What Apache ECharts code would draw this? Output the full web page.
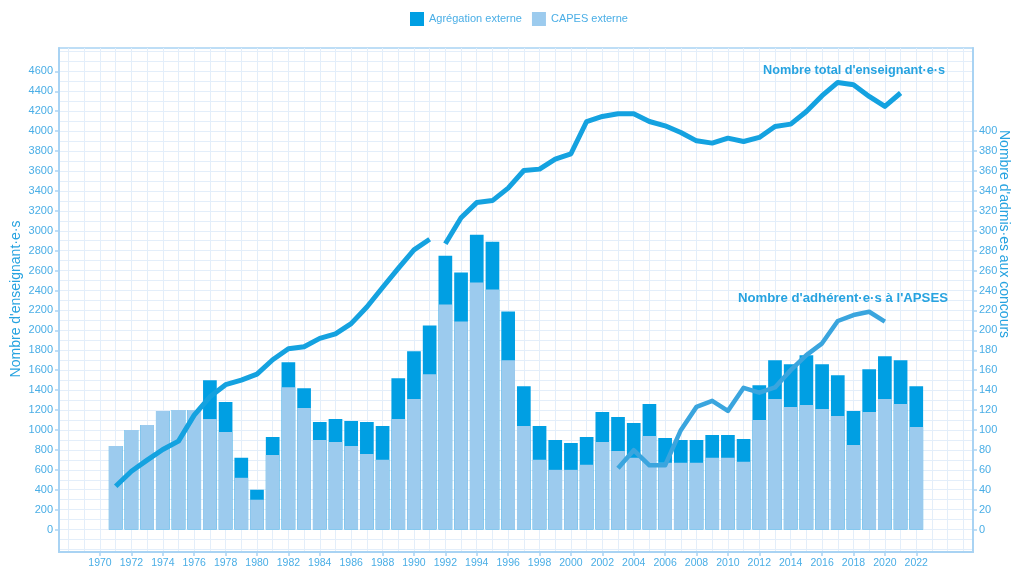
<!DOCTYPE html>
<html><head><meta charset="utf-8">
<script src="https://cdn.jsdelivr.net/npm/echarts@6/dist/echarts.min.js"></script>
<style>html,body{margin:0;padding:0;background:#fff}#c{width:1014px;height:566px}</style>
</head><body><div id="c"></div>
<script>
// ---- data ----
const years = [1971,1972,1973,1974,1975,1976,1977,1978,1979,1980,1981,1982,1983,1984,1985,1986,1987,1988,1989,1990,1991,1992,1993,1994,1995,1996,1997,1998,1999,2000,2001,2002,2003,2004,2005,2006,2007,2008,2009,2010,2011,2012,2013,2014,2015,2016,2017,2018,2019,2020,2021,2022];
const capesExterne = [84,100,105,119,120,120,111,98,52,30,75,143,122,90,88,84,76,70,111,131,156,226,209,248,241,170,104,70,60,60,65,88,79,72,94,67,67,67,72,72,68,110,131,123,125,121,114,85,118,131,126,103];
const agregExterne = [0,0,0,0,0,0,39,30,20,10,18,25,20,18,23,25,32,34,41,48,49,49,49,48,48,49,40,34,30,27,28,30,34,35,32,25,23,23,23,23,23,35,39,43,50,45,41,34,43,43,44,41];

const teacherYears = [1971,1972,1973,1974,1975,1976,1977,1978,1979,1980,1981,1982,1983,1984,1985,1986,1987,1988,1989,1990,1991,1992,1993,1994,1995,1996,1997,1998,1999,2000,2001,2002,2003,2004,2005,2006,2007,2008,2009,2010,2011,2012,2013,2014,2015,2016,2017,2018,2019,2020,2021];
const teachersTotal = [435,586,697,804,888,1149,1333,1455,1500,1560,1705,1815,1836,1920,1965,2068,2235,2430,2623,2808,2915,2870,3130,3283,3303,3428,3605,3619,3719,3773,4097,4148,4175,4175,4097,4054,3987,3903,3880,3930,3896,3937,4047,4071,4198,4356,4489,4466,4349,4248,4383];
const teachersBreakAfter = 1991; // the curve is interrupted between 1991 and 1992

const apsesYears = [2003,2004,2005,2006,2007,2008,2009,2010,2011,2012,2013,2014,2015,2016,2017,2018,2019,2020];
const apsesMembers = [615,797,645,645,998,1232,1293,1192,1423,1375,1427,1601,1752,1870,2094,2154,2187,2087];

const xTickYears = [1970,1972,1974,1976,1978,1980,1982,1984,1986,1988,1990,1992,1994,1996,1998,2000,2002,2004,2006,2008,2010,2012,2014,2016,2018,2020,2022];
const xGridYears = [1968,1969,1970,1971,1972,1973,1974,1975,1976,1977,1978,1979,1980,1981,1982,1983,1984,1985,1986,1987,1988,1989,1990,1991,1992,1993,1994,1995,1996,1997,1998,1999,2000,2001,2002,2003,2004,2005,2006,2007,2008,2009,2010,2011,2012,2013,2014,2015,2016,2017,2018,2019,2020,2021,2022,2023,2024,2025];
const leftTicks = [0,200,400,600,800,1000,1200,1400,1600,1800,2000,2200,2400,2600,2800,3000,3200,3400,3600,3800,4000,4200,4400,4600];
const rightTicks = [0,20,40,60,80,100,120,140,160,180,200,220,240,260,280,300,320,340,360,380,400];
const gridLinesY = [-200,-100,0,100,200,300,400,500,600,700,800,900,1000,1100,1200,1300,1400,1500,1600,1700,1800,1900,2000,2100,2200,2300,2400,2500,2600,2700,2800,2900,3000,3100,3200,3300,3400,3500,3600,3700,3800,3900,4000,4100,4200,4300,4400,4500,4600,4700,4800];

// ---- styles ----
const FONT = "'Liberation Sans', Arial, sans-serif";
const AXIS = '#a9d3f3';
const GRID = '#e3eefa';
const TXT = '#4aaee6';
const TITLE = '#27a3e0';
const DARK = '#009fe3';
const LIGHT = '#9ccbee';

const pair = (xs, vs) => xs.map((x, i) => [x, vs[i]]);
// stacked bars: the agrégation segment sits on top of the CAPES segment
const stackTop = years.map((y, i) => [y, capesExterne[i] + agregExterne[i]]);
const teachersA = pair(teacherYears, teachersTotal).filter(d => d[0] <= teachersBreakAfter);
const teachersB = pair(teacherYears, teachersTotal).filter(d => d[0] > teachersBreakAfter);

const chart = echarts.init(document.getElementById('c'), null, {renderer: 'canvas'});
chart.setOption({
  animation: false,
  backgroundColor: '#ffffff',
  textStyle: {fontFamily: FONT},
  legend: {
    top: 7, left: 405, itemWidth: 14, itemHeight: 14, itemGap: 10,
    icon: 'rect',
    data: ['Agrégation externe', 'CAPES externe'],
    textStyle: {color: TXT, fontSize: 11, fontFamily: FONT}
  },
  grid: {left: 59, right: 41, top: 48, bottom: 14, show: true, borderColor: AXIS, borderWidth: 1.5, backgroundColor: 'transparent', outerBoundsMode: 'none', containLabel: false},
  xAxis: [
    {type: 'value', min: 1967.387, max: 2025.614, position: 'bottom',
     axisLine: {show: true, onZero: false, lineStyle: {color: AXIS, width: 2}},
     axisTick: {show: true, length: 4, customValues: xTickYears, lineStyle: {color: AXIS, width: 1.5}},
     axisLabel: {show: true, customValues: xTickYears, color: TXT, fontSize: 10.5, margin: 6, fontFamily: FONT, formatter: v => String(v)},
     splitLine: {show: false}},
    {type: 'value', min: 1967.387, max: 2025.614, position: 'top',
     axisLine: {show: false}, axisTick: {show: false, customValues: xGridYears},
     axisLabel: {show: false, customValues: xGridYears},
     splitLine: {show: true, lineStyle: {color: GRID, width: 1}}}
  ],
  yAxis: [
    {type: 'value', min: -225, max: 4835, position: 'left',
     axisLine: {show: true, onZero: false, lineStyle: {color: AXIS, width: 2}},
     axisTick: {show: true, length: 4, customValues: leftTicks, lineStyle: {color: AXIS, width: 1.5}},
     axisLabel: {show: true, customValues: leftTicks, color: TXT, fontSize: 11, margin: 6, fontFamily: FONT, formatter: v => String(v)},
     splitLine: {show: false}},
    {type: 'value', min: -22.5, max: 483.5, position: 'right',
     axisLine: {show: true, onZero: false, lineStyle: {color: AXIS, width: 2}},
     axisTick: {show: true, length: 4, customValues: rightTicks, lineStyle: {color: AXIS, width: 1.5}},
     axisLabel: {show: true, customValues: rightTicks, color: TXT, fontSize: 11, margin: 6, fontFamily: FONT, formatter: v => String(v)},
     splitLine: {show: false}},
    {type: 'value', min: -225, max: 4835, position: 'left', offset: 0,
     axisLine: {show: false}, axisTick: {show: false, customValues: gridLinesY},
     axisLabel: {show: false, customValues: gridLinesY},
     splitLine: {show: true, lineStyle: {color: GRID, width: 1}}}
  ],
  series: [
    {name: 'Agrégation externe', type: 'bar', xAxisIndex: 0, yAxisIndex: 1, barGap: '-100%',
     barWidth: 13.7, itemStyle: {color: DARK}, data: stackTop, z: 2},
    {name: 'CAPES externe', type: 'bar', xAxisIndex: 0, yAxisIndex: 1, barGap: '-100%',
     barWidth: 13.7, itemStyle: {color: LIGHT}, data: pair(years, capesExterne), z: 3},
    {name: 'Enseignants A', type: 'line', xAxisIndex: 0, yAxisIndex: 0, symbol: 'none', z: 5,
     lineStyle: {color: '#14a2e0', width: 5, join: 'round'}, data: teachersA},
    {name: 'Enseignants B', type: 'line', xAxisIndex: 0, yAxisIndex: 0, symbol: 'none', z: 5,
     lineStyle: {color: '#14a2e0', width: 5, join: 'round'}, data: teachersB},
    {name: 'APSES', type: 'line', xAxisIndex: 0, yAxisIndex: 0, symbol: 'none', z: 5,
     lineStyle: {color: '#3aa5de', width: 4.5, join: 'round'}, data: pair(apsesYears, apsesMembers)}
  ],
  graphic: [
    {type: 'text', left: 763, top: 64, z: 10,
     style: {text: "Nombre total d'enseignant·e·s", fill: TITLE, font: "bold 12.7px 'Liberation Sans', Arial, sans-serif"}},
    {type: 'text', left: 738, top: 292, z: 10,
     style: {text: "Nombre d'adhérent·e·s à l'APSES", fill: TITLE, font: "bold 13.2px 'Liberation Sans', Arial, sans-serif"}},
    {type: 'text', x: 16, y: 299, rotation: Math.PI / 2, z: 10,
     style: {text: "Nombre d'enseignant·e·s", fill: TITLE, font: "14px 'Liberation Sans', Arial, sans-serif",
             align: 'center', verticalAlign: 'middle', textAlign: 'center', textVerticalAlign: 'middle'}},
    {type: 'text', x: 1004, y: 130, rotation: -Math.PI / 2, z: 10,
     style: {text: "Nombre d'admis·es aux concours", fill: TITLE, font: "14px 'Liberation Sans', Arial, sans-serif",
             align: 'left', verticalAlign: 'middle', textAlign: 'left', textVerticalAlign: 'middle'}}
  ]
});
</script>
</body></html>
